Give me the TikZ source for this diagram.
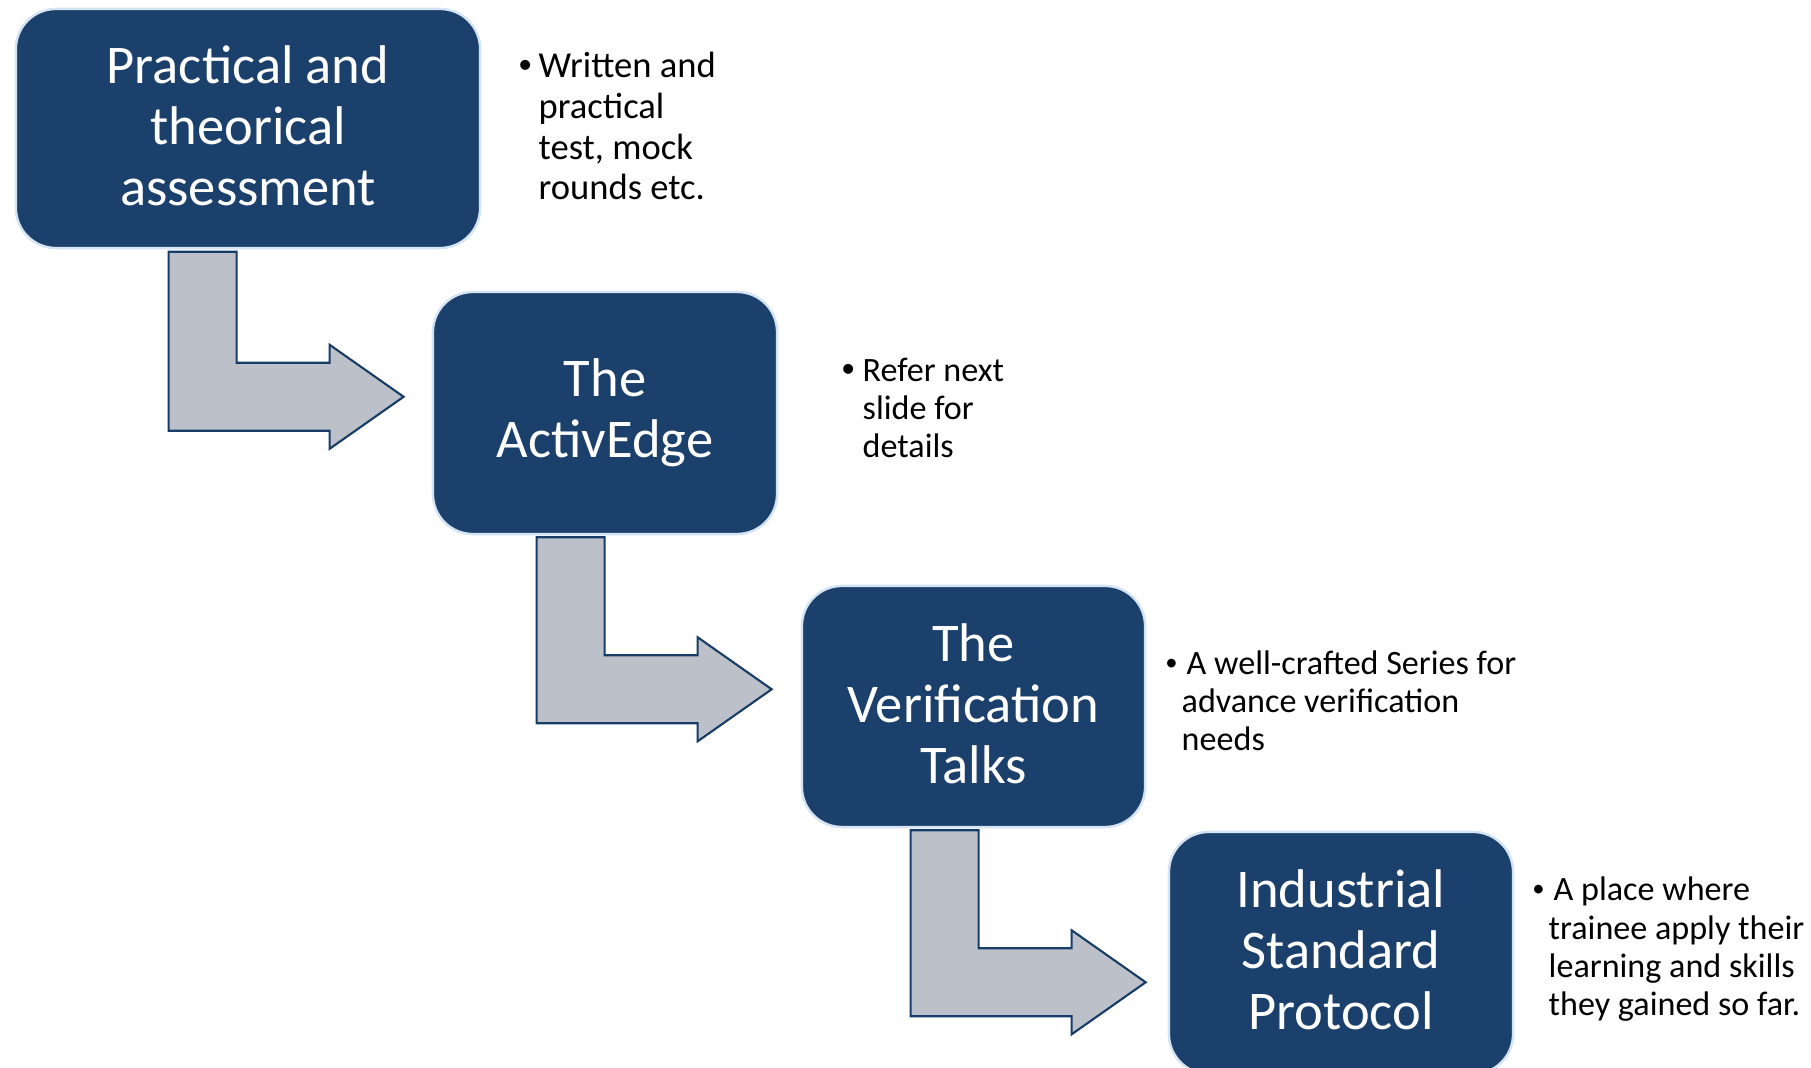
\documentclass[tikz,border=0pt]{standalone}
\usepackage{fontspec}
\setmainfont{Carlito}
\newfontfamily\bulfont{Liberation Sans}
\usetikzlibrary{calc}
\definecolor{navy}{RGB}{27,64,108}
\definecolor{edgeblue}{RGB}{212,228,243}
\definecolor{arrowgray}{RGB}{188,193,201}
\definecolor{arrowline}{RGB}{24,60,104}
\newcommand\smallbul{\raisebox{0.12em}{\fontsize{7}{7}\selectfont •}}
\newcommand\liftup[1]{\raisebox{-0.035cm}[\height][\depth]{\begin{tabular}{@{}c@{}}#1\end{tabular}}}
\begin{document}
\begin{tikzpicture}[x=0.01cm,y=-0.01cm,
  stage/.style={draw=edgeblue, line width=0.7pt, fill=navy, rounded corners=0.4cm,
    text=white, align=center, inner sep=0pt, font=\fontsize{15.5}{17.4}\selectfont},
  bentarr/.style={draw=arrowline, fill=arrowgray, line width=0.6pt, line join=miter},
  noteA/.style={anchor=base west, align=left, inner sep=0pt, text=black,
    font=\fontsize{10.4}{11.6}\selectfont},
  noteB/.style={anchor=base west, align=left, inner sep=0pt, text=black,
    font=\fontsize{9.7}{10.9}\selectfont},
]
\useasboundingbox (0,0) rectangle (1811,1068);
% stage boxes
\node[stage, minimum width=4.64cm, minimum height=2.39cm] (b1) at (248,128.5)
  {\liftup{Practical and\\theorical\\assessment}};
\node[stage, minimum width=3.44cm, minimum height=2.42cm] (b2) at (605,413)
  {The\\ActivEdge};
\node[stage, minimum width=3.43cm, minimum height=2.41cm] (b3) at (973.5,706.5)
  {\liftup{The\\Verification\\Talks}};
\node[stage, minimum width=3.44cm, minimum height=2.42cm] (b4) at (1341,953)
  {\liftup{Industrial\\Standard\\Protocol}};
% bent arrows
\draw[bentarr] ($(b1.south west)+(154,2.5)$) -- ++(68,0) -- ++(0,111) -- ++(93,0)
  -- ++(0,-18) -- ++(74,52) -- ++(-74,52) -- ++(0,-18) -- ++(-161,0) -- cycle;
\draw[bentarr] ($(b2.south west)+(105,2)$) -- ++(68,0) -- ++(0,118) -- ++(93,0)
  -- ++(0,-18) -- ++(74,52) -- ++(-74,52) -- ++(0,-18) -- ++(-161,0) -- cycle;
\draw[bentarr] ($(b3.south west)+(110,2)$) -- ++(68,0) -- ++(0,118) -- ++(93,0)
  -- ++(0,-18) -- ++(74,52) -- ++(-74,52) -- ++(0,-18) -- ++(-161,0) -- cycle;
% notes (anchored at the baseline of the last line)
\node[noteA] (t1) at (538,200)
  {\llap{{\bulfont •}\hspace{0.07cm}}Written and\\practical\\test, mock\\rounds etc.};
\node[noteB] (t2) at (862,458)
  {\llap{{\bulfont\fontsize{10.4}{11}\selectfont •}\hspace{0.08cm}}Refer next\\slide for\\details};
\node[noteB] (t3) at (1181,751)
  {\hspace*{0.05cm}\llap{\smallbul\hspace{0.09cm}}A well-crafted Series for\\advance verification\\needs};
\node[noteB] (t4) at (1548,1016)
  {\hspace*{0.05cm}\llap{\smallbul\hspace{0.09cm}}A place where\\trainee apply their\\learning and skills\\they gained so far.};
\end{tikzpicture}
\end{document}
